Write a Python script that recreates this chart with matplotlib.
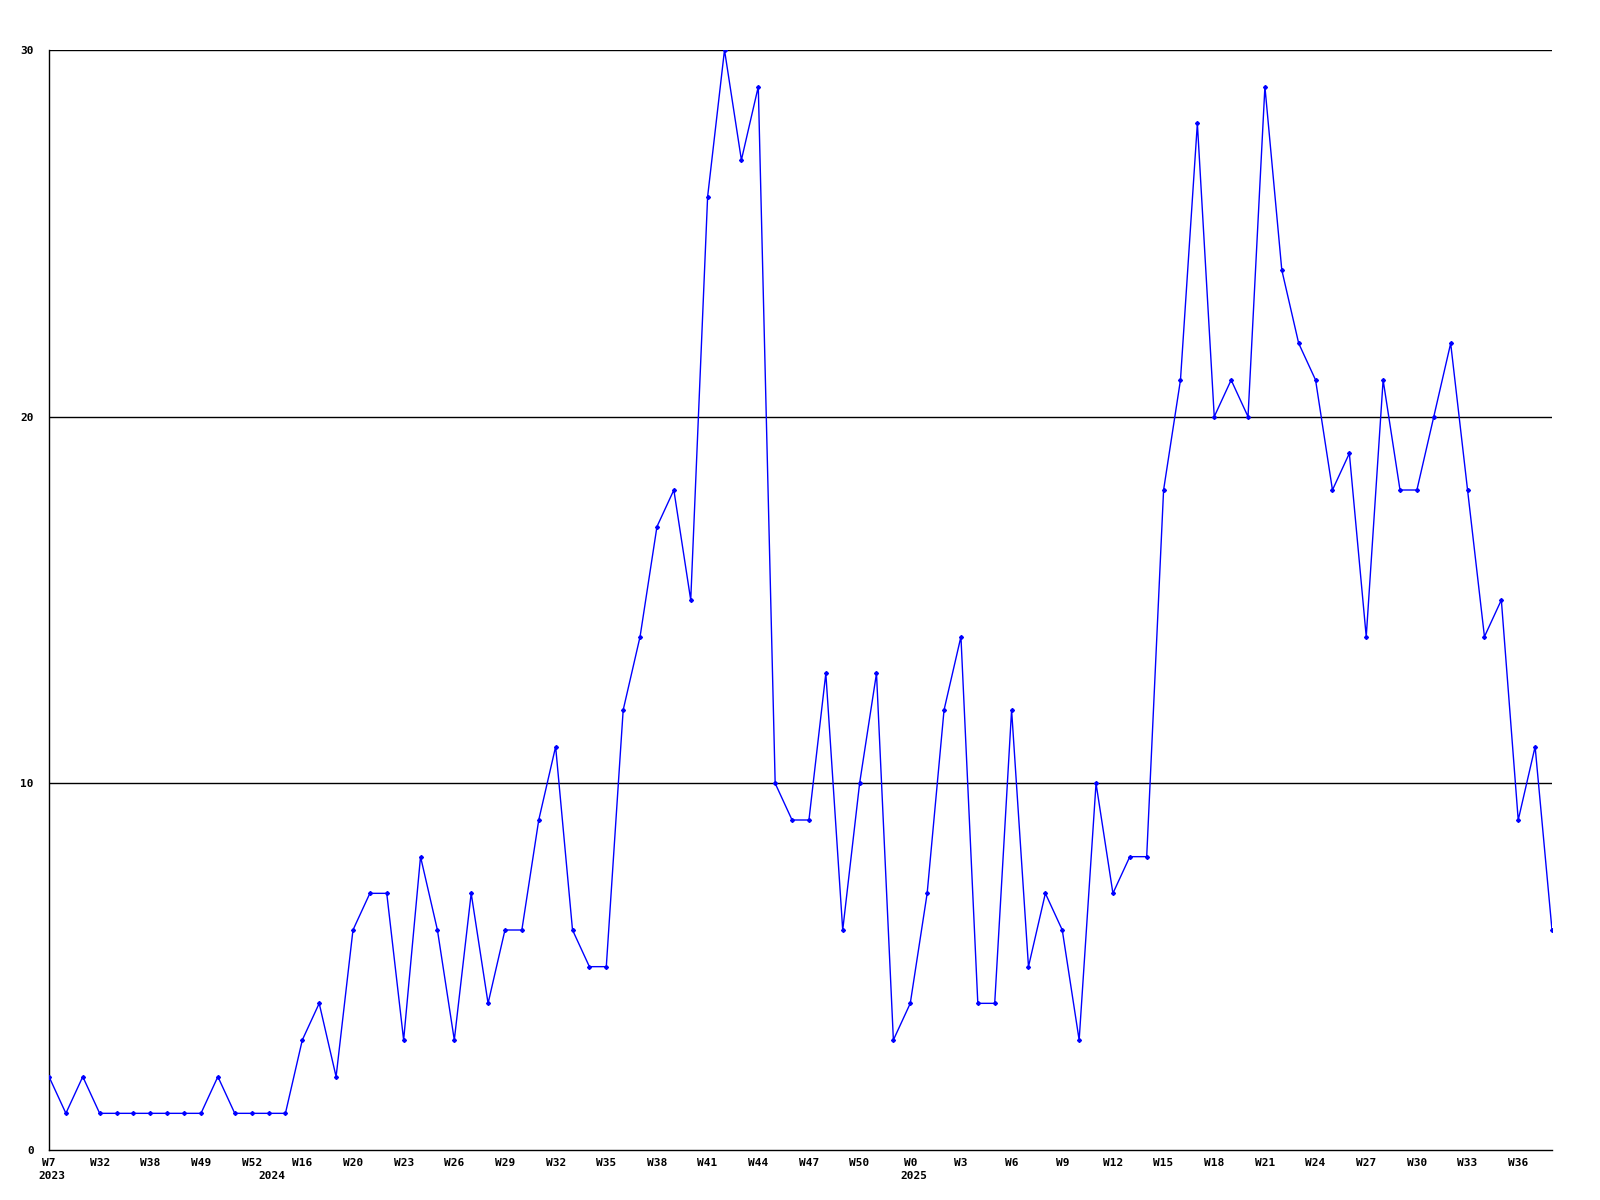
import matplotlib
matplotlib.use("Agg")
import matplotlib.pyplot as plt
from matplotlib.transforms import blended_transform_factory

values = [2, 1, 2, 1, 1, 1, 1, 1, 1, 1, 2, 1, 1, 1, 1, 3, 4, 2, 6, 7,
          7, 3, 8, 6, 3, 7, 4, 6, 6, 9, 11, 6, 5, 5, 12, 14, 17, 18, 15, 26,
          30, 27, 29, 10, 9, 9, 13, 6, 10, 13, 3, 4, 7, 12, 14, 4, 4, 12, 5, 7,
          6, 3, 10, 7, 8, 8, 18, 21, 28, 20, 21, 20, 29, 24, 22, 21, 18, 19, 14, 21,
          18, 18, 20, 22, 18, 14, 15, 9, 11, 6]

tick_labels = ["W7", "W32", "W38", "W49", "W52", "W16", "W20", "W23", "W26", "W29",
               "W32", "W35", "W38", "W41", "W44", "W47", "W50", "W0", "W3", "W6",
               "W9", "W12", "W15", "W18", "W21", "W24", "W27", "W30", "W33", "W36"]
tick_step = 3

year_labels = ["2023", "2024", "2025"]
year_positions = [0, 13, 51]

y_ticks = [0, 10, 20, 30]

fig = plt.figure(figsize=(16, 12), dpi=100)
ax = fig.add_axes([49 / 1600, 50 / 1200, (1552 - 49) / 1600, 1100 / 1200])

x = list(range(len(values)))
ax.plot(x, values, color="#0000ff", linewidth=1.0, marker="D", markersize=2.0,
        markerfacecolor="#0000ff", markeredgecolor="#0000ff", zorder=3)

ax.set_xlim(0, len(values) - 1)
ax.set_ylim(0, 30)

font = dict(family="DejaVu Sans Mono", weight="bold", size=8)

ax.set_yticks(y_ticks)
ax.set_yticklabels([str(v) for v in y_ticks], **font)
for v in y_ticks[1:]:
    ax.axhline(v, color="black", linewidth=1.0, zorder=1)

ax.set_xticks([i * tick_step for i in range(len(tick_labels))])
ax.set_xticklabels(tick_labels, **font)
ax.tick_params(axis="both", length=0)
ax.tick_params(axis="y", pad=11)
ax.tick_params(axis="x", pad=6)

trans = blended_transform_factory(ax.transData, ax.transAxes)
for lab, pos in zip(year_labels, year_positions):
    ax.text(pos - 0.6, -0.019, lab, transform=trans, ha="left", va="top", **font)

for s in ["top", "right"]:
    ax.spines[s].set_visible(False)
for s in ["left", "bottom"]:
    ax.spines[s].set_color("black")
    ax.spines[s].set_linewidth(1.0)

fig.savefig("out.png", dpi=100, facecolor="white")
